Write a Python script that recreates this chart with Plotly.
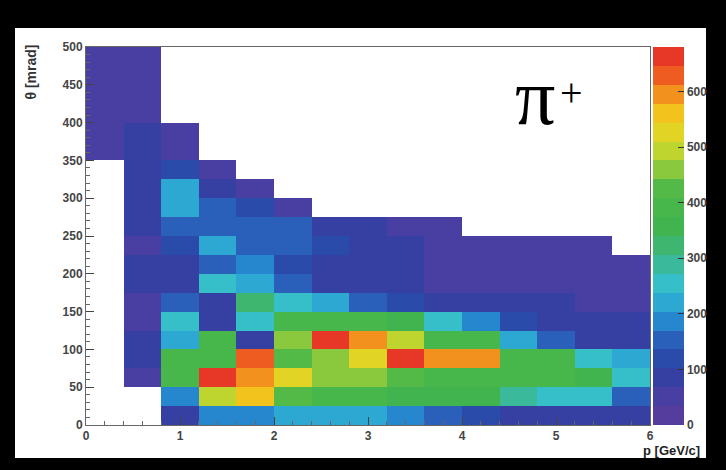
import plotly.graph_objects as go

# Bin edges
p_edges = [0.0, 0.4, 0.8, 1.2, 1.6, 2.0, 2.4, 2.8, 3.2, 3.6, 4.0, 4.4, 4.8, 5.2, 5.6, 6.0]
theta_edges = [0, 25, 50, 75, 100, 125, 150, 175, 200, 225, 250, 275, 300, 325, 350,
               375, 400, 425, 450, 475, 500]

N = None
# rows: theta bins from 0 upward; columns: p bins from 0 upward
row_000_025 = [N, N, 100, 200, 200, 230, 230, 210, 190, 150, 110, 100, 100, 90, 90]
row_025_050 = [N, N, 200, 480, 570, 430, 390, 380, 370, 370, 360, 295, 265, 265, 150]
row_050_075 = [N, 50, 390, 650, 580, 530, 470, 460, 420, 400, 390, 380, 380, 370, 255]
row_075_100 = [N, 85, 380, 380, 640, 440, 460, 530, 650, 595, 580, 400, 380, 250, 230]
row_100_125 = [N, 80, 210, 380, 100, 450, 650, 600, 500, 390, 380, 230, 150, 90, 85]
row_125_150 = [N, 50, 240, 90, 250, 380, 380, 380, 370, 260, 170, 110, 100, 90, 70]
row_150_175 = [N, 45, 150, 90, 330, 250, 215, 160, 110, 100, 90, 90, 90, 60, 50]
row_175_200 = [N, 90, 100, 260, 220, 160, 100, 90, 85, 60, 40, 40, 35, 35, 35]
row_200_225 = [N, 90, 95, 150, 170, 110, 90, 90, 80, 60, 40, 38, 36, 35, 35]
row_225_250 = [N, 35, 120, 230, 150, 150, 130, 90, 85, 60, 35, 35, 35, 35, N]
row_250_275 = [N, 85, 160, 150, 140, 140, 90, 70, 60, 45, N, N, N, N, N]
row_275_300 = [N, 85, 220, 160, 110, 40, N, N, N, N, N, N, N, N, N]
row_300_325 = [N, 85, 210, 100, 40, N, N, N, N, N, N, N, N, N, N]
row_325_350 = [N, 85, 110, 40, N, N, N, N, N, N, N, N, N, N, N]
row_350_375 = [60, 80, 65, N, N, N, N, N, N, N, N, N, N, N, N]
row_375_400 = [45, 75, 40, N, N, N, N, N, N, N, N, N, N, N, N]
row_400_425 = [35, 55, N, N, N, N, N, N, N, N, N, N, N, N, N]
row_425_450 = [35, 40, N, N, N, N, N, N, N, N, N, N, N, N, N]
row_450_475 = [35, 40, N, N, N, N, N, N, N, N, N, N, N, N, N]
row_475_500 = [35, 40, N, N, N, N, N, N, N, N, N, N, N, N, N]

counts = [row_000_025, row_025_050, row_050_075, row_075_100, row_100_125,
          row_125_150, row_150_175, row_175_200, row_200_225, row_225_250,
          row_250_275, row_275_300, row_300_325, row_325_350, row_350_375,
          row_375_400, row_400_425, row_425_450, row_450_475, row_475_500]

x_ticks = [0, 1, 2, 3, 4, 5, 6]
y_ticks = [0, 50, 100, 150, 200, 250, 300, 350, 400, 450, 500]
cbar_ticks = [0, 100, 200, 300, 400, 500, 600]

zmax = 680
n_levels = 20
stops = [
    (0, "#5b3c9c"), (50, "#4a3fa2"), (100, "#2c41a2"), (150, "#2a5cb8"),
    (200, "#2596d6"), (250, "#35c0d0"), (300, "#3cb88c"), (350, "#40b450"),
    (420, "#4cb848"), (470, "#9ccc3a"), (510, "#d8dc28"), (560, "#f2c41c"),
    (600, "#f28a1e"), (640, "#ec4a22"), (680, "#e42a2a"),
]


def hex2rgb(h):
    h = h.lstrip("#")
    return [int(h[i:i + 2], 16) for i in (0, 2, 4)]


def smooth_color(v):
    for (v0, c0), (v1, c1) in zip(stops[:-1], stops[1:]):
        if v0 <= v <= v1:
            t = (v - v0) / (v1 - v0)
            a, b = hex2rgb(c0), hex2rgb(c1)
            return "rgb(%d,%d,%d)" % tuple(round(a[i] + (b[i] - a[i]) * t) for i in range(3))
    return stops[-1][1]


# stepped palette like ROOT contour levels
colorscale = []
for k in range(n_levels):
    lo, hi = k / n_levels, (k + 1) / n_levels
    col = smooth_color((k + 0.5) / n_levels * zmax)
    colorscale.append([lo, col])
    colorscale.append([hi, col])

W0, W1 = 86, 650
H0, H1 = 47, 425
pw, ph = W1 - W0, H1 - H0
def px(xp): return (xp - W0) / pw
def py(yp): return (H1 - yp) / ph

fig = go.Figure()
fig.add_trace(go.Heatmap(
    x=p_edges, y=theta_edges, z=counts,
    zmin=0, zmax=zmax, colorscale=colorscale,
    hoverongaps=False,
    colorbar=dict(
        x=px(653), xanchor="left", y=0.5, yanchor="middle",
        len=1.0, ypad=0, xpad=0,
        thickness=31, outlinewidth=0,
        tickvals=cbar_ticks, ticks="inside", ticklen=6, tickcolor="#333",
        tickfont=dict(family="Liberation Sans", size=12, color="#444", weight="bold"),
    ),
))

fig.add_shape(type="rect", xref="paper", yref="paper",
              x0=px(15), x1=px(706), y0=py(458), y1=py(28),
              fillcolor="white", line_width=0, layer="below")

fig.add_annotation(xref="paper", yref="paper", x=px(535), y=py(97),
                   text="π", showarrow=False, xanchor="center", yanchor="middle",
                   font=dict(family="Liberation Serif", size=80, color="black"))
fig.add_annotation(xref="paper", yref="paper", x=px(571), y=py(92),
                   text="+", showarrow=False, xanchor="center", yanchor="middle",
                   font=dict(family="Liberation Serif", size=40, color="black"))
fig.add_annotation(xref="paper", yref="paper", x=px(31), y=py(43),
                   text="θ [mrad]", textangle=-90, showarrow=False,
                   xanchor="center", yanchor="top",
                   font=dict(family="Liberation Sans", size=14, color="#333", weight="bold"))
fig.add_annotation(xref="paper", yref="paper", x=px(702), y=py(441),
                   text="p [GeV/c]", showarrow=False,
                   xanchor="right", yanchor="top",
                   font=dict(family="Liberation Sans", size=13, color="#222", weight="bold"))

tickfont = dict(family="Liberation Sans", size=12, color="#444", weight="bold")
fig.update_xaxes(range=[0, 6.0], tickvals=x_ticks, ticks="inside", ticklen=8,
                 tickcolor="#444", showline=True, mirror=True, linecolor="#666",
                 linewidth=1, showgrid=False, zeroline=False, tickfont=tickfont,
                 minor=dict(ticks="inside", ticklen=4, dtick=0.2, tickcolor="#666"))
fig.update_yaxes(range=[0, 500], tickvals=y_ticks, ticks="inside", ticklen=8,
                 tickcolor="#444", showline=True, mirror=True, linecolor="#666",
                 linewidth=1, showgrid=False, zeroline=False, tickfont=tickfont,
                 minor=dict(ticks="inside", ticklen=4, dtick=10, tickcolor="#666"))

fig.update_layout(
    width=726, height=470,
    margin=dict(l=W0, r=726 - W1, t=H0, b=470 - H1, pad=0, autoexpand=False),
    paper_bgcolor="black", plot_bgcolor="white",
    showlegend=False,
)
fig.write_html("out.html",
               config={"displayModeBar": False},
               post_script="document.body.style.margin='0';"
                           "document.body.style.background='black';")
